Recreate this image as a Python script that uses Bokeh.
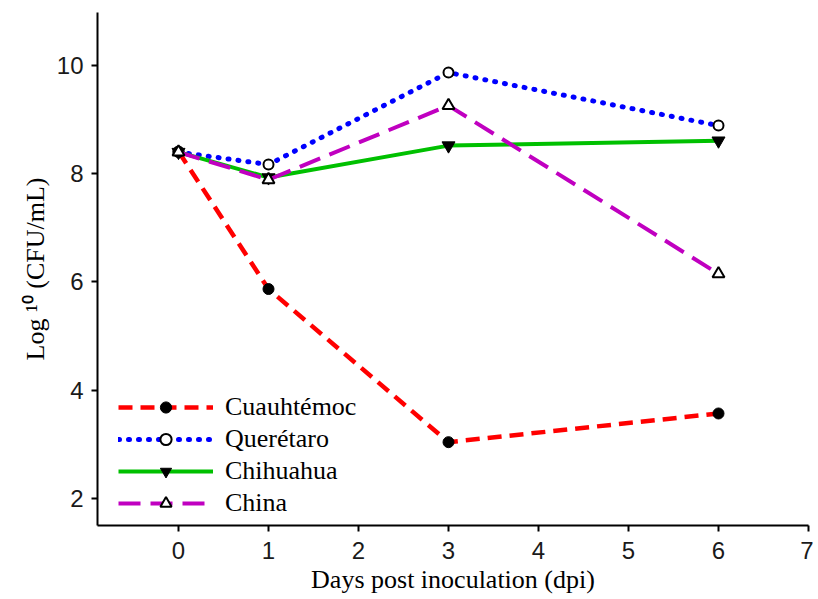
from bokeh.plotting import figure
from bokeh.models import FixedTicker, Legend, LegendItem, Range1d
from bokeh.embed import file_html
from bokeh.resources import INLINE

days = [0, 1, 3, 6]
cuauhtemoc = [8.41, 5.87, 3.04, 3.57]
queretaro = [8.40, 8.17, 9.87, 8.89]
chihuahua = [8.40, 7.93, 8.52, 8.61]
china = [8.40, 7.89, 9.26, 6.15]
x_ticks = [0, 1, 2, 3, 4, 5, 6, 7]
y_ticks = [2, 4, 6, 8, 10]

p = figure(width=813, height=596, output_backend="svg", toolbar_location=None,
           x_range=Range1d(-0.9, 7.0), y_range=Range1d(1.5, 10.98),
           min_border_left=97, min_border_right=5, min_border_top=12, min_border_bottom=71)
p.outline_line_color = None
p.xgrid.visible = False
p.ygrid.visible = False
p.background_fill_color = "white"
p.border_fill_color = "white"

for ax in (p.xaxis, p.yaxis):
    ax.axis_line_width = 2
    ax.axis_line_color = "black"
    ax.major_tick_line_width = 2
    ax.major_tick_line_color = "black"
    ax.major_tick_out = 6
    ax.major_tick_in = 0
    ax.minor_tick_line_color = None
    ax.major_label_text_font = "Liberation Sans"
    ax.major_label_text_font_size = "24px"
    ax.major_label_text_color = "#1a1a1a"
    ax.axis_label_text_font = "Liberation Serif"
    ax.axis_label_text_font_size = "26px"
    ax.axis_label_text_font_style = "normal"
    ax.axis_label_text_color = "black"

p.xaxis.ticker = FixedTicker(ticks=x_ticks)
p.yaxis.ticker = FixedTicker(ticks=y_ticks)
p.xaxis.major_label_standoff = 10
p.yaxis.major_label_standoff = 8
p.xaxis.axis_label = "Days post inoculation (dpi)"
p.yaxis.axis_label = "Log \u00b9\u2070 (CFU/mL)"
p.xaxis.axis_label_standoff = 3
p.yaxis.axis_label_standoff = 4

l1 = p.line(days, cuauhtemoc, line_color="#FF0000", line_width=4.5, line_dash="14 8")
s1 = p.scatter(days, cuauhtemoc, marker="circle", size=11, fill_color="black", line_color="black")
l2 = p.line(days, queretaro, line_color="#0000FF", line_width=5, line_dash="1 9", line_cap="round")
s2 = p.scatter(days, queretaro, marker="circle", size=10, fill_color="white", line_color="black", line_width=2)
l3 = p.line(days, chihuahua, line_color="#00C000", line_width=4)
s3 = p.scatter(days, chihuahua, marker="inverted_triangle", size=13, fill_color="black", line_color="black")
l4 = p.line(days, china, line_color="#C000C0", line_width=4, line_dash="22 10")
s4 = p.scatter(days, china, marker="triangle", size=12, fill_color="white", line_color="black", line_width=2)

items = [
    LegendItem(label="Cuauhtémoc", renderers=[l1, s1]),
    LegendItem(label="Querétaro", renderers=[l2, s2]),
    LegendItem(label="Chihuahua", renderers=[l3, s3]),
    LegendItem(label="China", renderers=[l4, s4]),
]
legend = Legend(items=items, location=(21, 7), padding=0, margin=0,
                glyph_width=95, glyph_height=28, label_height=28, spacing=2,
                label_standoff=12, label_text_font="Liberation Serif",
                label_text_font_size="26px", label_text_color="black",
                border_line_color=None, background_fill_alpha=0)
p.add_layout(legend, "center")

open("out.html", "w").write(file_html(p, INLINE))
